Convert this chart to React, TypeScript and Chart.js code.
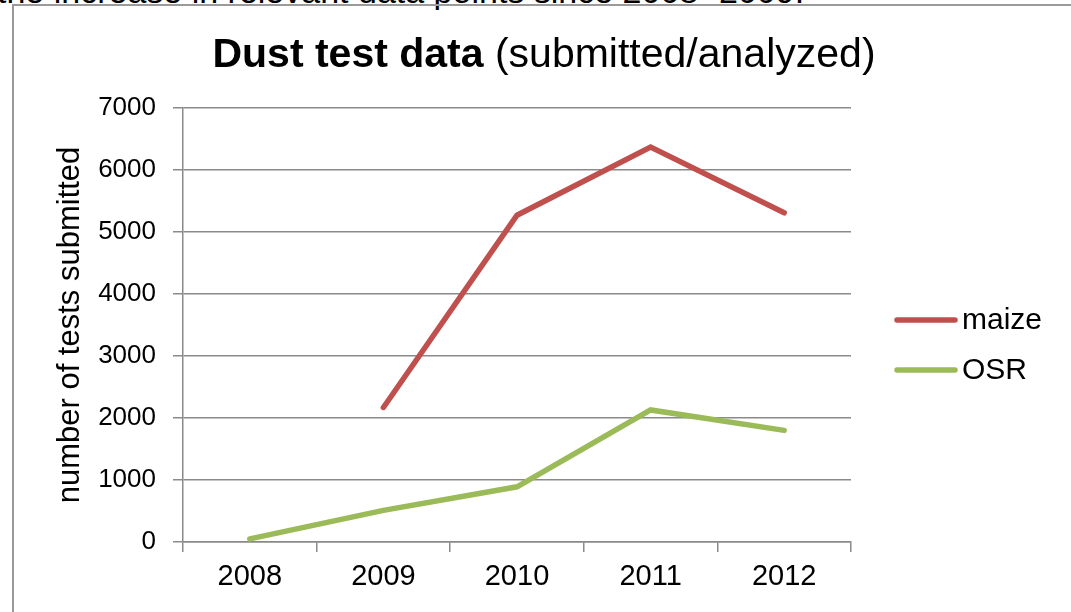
import React, { useEffect, useRef } from "react";
import { Chart, registerables } from "chart.js";

Chart.register(...registerables);

const years = ["2008", "2009", "2010", "2011", "2012"];
const maizeValues = [null, 2170, 5270, 6370, 5310];
const osrValues = [50, 510, 890, 2130, 1800];
const seriesNames = ["maize", "OSR"];
const seriesColors = ["#c0504d", "#9bbb59"];
const yMin = 0;
const yMax = 7000;
const yStep = 1000;
const titleBold = "Dust test data";
const titleRest = " (submitted/analyzed)";
const yAxisTitle = "number of tests submitted";
const topText = "the increase in relevant data points since 2008- 2009.";

const FONT = "'Liberation Sans', Arial, Helvetica, sans-serif";

const overlayPlugin = {
  id: "overlay",
  afterDraw(chart: any) {
    const ctx = chart.ctx;
    ctx.save();
    ctx.textBaseline = "alphabetic";
    ctx.textAlign = "left";
    ctx.fillStyle = "#000";
    ctx.font = `bold 41px ${FONT}`;
    const wBold = ctx.measureText(titleBold).width;
    ctx.font = `41px ${FONT}`;
    const wRest = ctx.measureText(titleRest).width;
    const startX = 530 - (wBold + wRest) / 2;
    ctx.font = `bold 41px ${FONT}`;
    ctx.fillText(titleBold, startX, 61);
    ctx.font = `41px ${FONT}`;
    ctx.fillText(titleRest, startX + wBold, 61);

    const ys = [314, 364];
    chart.data.datasets.forEach((ds: any, i: number) => {
      ctx.strokeStyle = ds.borderColor;
      ctx.lineWidth = 5.5;
      ctx.lineCap = "round";
      ctx.beginPath();
      ctx.moveTo(883, ys[i]);
      ctx.lineTo(941, ys[i]);
      ctx.stroke();
      ctx.fillStyle = "#000";
      ctx.font = `30px ${FONT}`;
      ctx.textBaseline = "middle";
      ctx.fillText(ds.label, 948, ys[i] + 1);
    });
    ctx.restore();
  },
};

export default function App() {
  const ref = useRef<HTMLCanvasElement | null>(null);

  useEffect(() => {
    if (!ref.current) return;
    const chart = new Chart(ref.current, {
      type: "line",
      data: {
        labels: years,
        datasets: [
          {
            label: seriesNames[0],
            data: maizeValues,
            borderColor: seriesColors[0],
            backgroundColor: seriesColors[0],
            borderWidth: 5.5,
            pointRadius: 0,
            borderCapStyle: "round",
            borderJoinStyle: "miter",
            tension: 0,
            spanGaps: false,
          },
          {
            label: seriesNames[1],
            data: osrValues,
            borderColor: seriesColors[1],
            backgroundColor: seriesColors[1],
            borderWidth: 5.5,
            pointRadius: 0,
            borderCapStyle: "round",
            borderJoinStyle: "miter",
            tension: 0,
          },
        ],
      },
      options: {
        animation: false,
        responsive: true,
        maintainAspectRatio: false,
        layout: { padding: { top: 102, right: 220, bottom: 0, left: 0 } },
        plugins: {
          legend: { display: false },
          title: { display: false },
          tooltip: { enabled: false },
        },
        scales: {
          x: {
            type: "category",
            offset: true,
            grid: {
              offset: true,
              drawOnChartArea: false,
              drawTicks: true,
              tickLength: 10,
              color: "#8a8a8a",
              lineWidth: 1.5,
            },
            border: { display: true, color: "#8a8a8a", width: 1.5 },
            ticks: {
              color: "#000",
              font: { family: FONT, size: 29 },
              padding: 8,
              maxRotation: 0,
            },
            afterFit: (scale: any) => {
              scale.height = 70;
            },
          },
          y: {
            min: yMin,
            max: yMax,
            grid: {
              drawOnChartArea: true,
              drawTicks: true,
              tickLength: 10,
              color: "#8a8a8a",
              lineWidth: 1.5,
            },
            border: { display: true, color: "#8a8a8a", width: 1.5 },
            ticks: {
              stepSize: yStep,
              color: "#000",
              font: { family: FONT, size: 26 },
              padding: 17,
              callback: (v: any) => String(v),
            },
            title: {
              display: true,
              text: yAxisTitle,
              color: "#000",
              font: { family: FONT, size: 31 },
              padding: { top: 38, bottom: 0 },
            },
            afterFit: (scale: any) => {
              scale.width = 169;
            },
          },
        },
      },
      plugins: [overlayPlugin],
    } as any);
    return () => chart.destroy();
  }, []);

  return (
    <div
      style={{
        position: "absolute",
        left: 0,
        top: 0,
        width: 1071,
        height: 612,
        overflow: "hidden",
        background: "#fff",
      }}
    >
      <div
        style={{
          position: "absolute",
          left: -3,
          top: -26,
          fontFamily: FONT,
          fontSize: 34,
          lineHeight: "35px",
          whiteSpace: "nowrap",
          color: "#000",
        }}
      >
        {topText}
      </div>
      <div
        style={{
          position: "absolute",
          left: 12,
          top: 4,
          width: 1059,
          height: 608,
          borderLeft: "2px solid #9a9a9a",
          borderTop: "2px solid #9a9a9a",
          boxSizing: "border-box",
        }}
      >
        <div style={{ position: "absolute", left: 0, top: 0, width: 1057, height: 606 }}>
          <canvas ref={ref} />
        </div>
      </div>
    </div>
  );
}
